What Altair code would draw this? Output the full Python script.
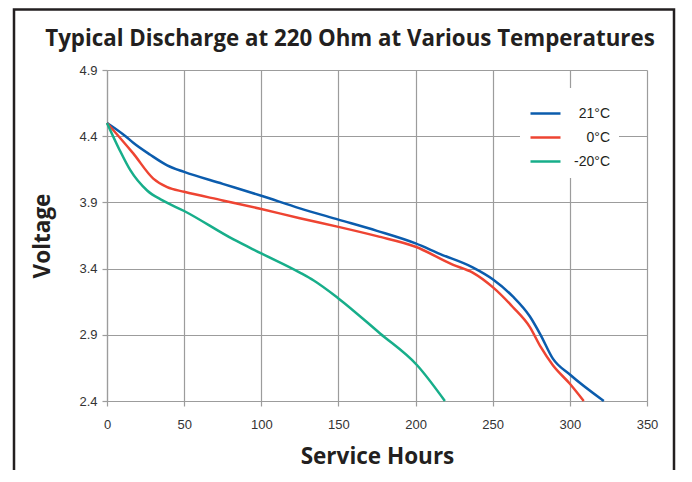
import altair as alt
import pandas as pd

# ---- data ----
hours_21 = [0, 12, 17, 28, 39, 50, 75, 100, 125, 150, 175, 200, 216, 237, 250, 263, 274, 281, 289, 300, 322]
volt_21 = [4.5, 4.4, 4.35, 4.26, 4.18, 4.13, 4.04, 3.95, 3.855, 3.77, 3.685, 3.59, 3.51, 3.41, 3.32, 3.19, 3.04, 2.90, 2.72, 2.60, 2.4]

hours_0 = [0, 17, 30, 39, 50, 75, 100, 125, 150, 175, 200, 224, 237, 250, 263, 274, 281, 289, 300, 309]
volt_0 = [4.5, 4.27, 4.08, 4.015, 3.98, 3.915, 3.85, 3.78, 3.715, 3.645, 3.565, 3.43, 3.37, 3.26, 3.11, 2.96, 2.81, 2.67, 2.53, 2.4]

hours_m20 = [0, 8, 15, 26, 36, 50, 82, 100, 125, 134, 150, 177, 201, 219]
volt_m20 = [4.5, 4.3, 4.145, 3.99, 3.915, 3.835, 3.62, 3.515, 3.37, 3.31, 3.175, 2.91, 2.67, 2.4]

series_labels = ["21°C", "0°C", "-20°C"]
series_colors = ["#0B5CAD", "#EE4432", "#17AE8A"]

x_ticks = [0, 50, 100, 150, 200, 250, 300, 350]
y_ticks = [2.4, 2.9, 3.4, 3.9, 4.4, 4.9]

rows = []
for lab, hs, vs in zip(series_labels, [hours_21, hours_0, hours_m20], [volt_21, volt_0, volt_m20]):
    for i, (h, v) in enumerate(zip(hs, vs)):
        rows.append({"series": lab, "hours": h, "volt": v, "order": i})
df = pd.DataFrame(rows)

label_font = "Liberation Sans"
title_font = "Open Sans"

lines = alt.Chart(df).mark_line(strokeWidth=2.5, interpolate="monotone").encode(
    x=alt.X("hours:Q",
            scale=alt.Scale(domain=[0, 350], nice=False),
            axis=alt.Axis(values=x_ticks, title="Service Hours", grid=True, labelFlush=False,
                          labelFontSize=13, labelFont=label_font, labelColor="#333333",
                          labelPadding=12, tickSize=5, titlePadding=14,
                          titleFontSize=22.5, titleFont=title_font, titleFontWeight=700,
                          titleColor="#231f20")),
    y=alt.Y("volt:Q",
            scale=alt.Scale(domain=[2.4, 4.9], nice=False, zero=False),
            axis=alt.Axis(values=y_ticks, format=".1f", title="Voltage", grid=True,
                          labelFontSize=13, labelFont=label_font, labelColor="#333333",
                          labelPadding=5, tickSize=5, titlePadding=24,
                          titleFontSize=22.5, titleFont=title_font, titleFontWeight=700,
                          titleColor="#231f20")),
    color=alt.Color("series:N",
                    scale=alt.Scale(domain=series_labels, range=series_colors),
                    sort=series_labels,
                    legend=alt.Legend(title=None, orient="none", legendX=413, legendY=18,
                                      fillColor="white", padding=9,
                                      symbolType="stroke", symbolSize=900, symbolStrokeWidth=2.5,
                                      labelFontSize=14, labelFont=label_font, labelColor="#231f20",
                                      labelAlign="right", labelOffset=48, rowPadding=-2)),
    order="order:Q",
)

frame_df = pd.DataFrame({"k": [0]})
frame = alt.Chart(frame_df).mark_rect(filled=False, stroke="#231f20", strokeWidth=2.5).encode(
    x=alt.value(-93), x2=alt.value(567), y=alt.value(-60.5), y2=alt.value(420)
)

chart = alt.layer(lines, frame).properties(
    width=540, height=331,
    autosize=alt.AutoSizeParams(type="none"),
    padding={"left": 99, "top": 62, "right": 37, "bottom": 69},
    title=alt.Title("Typical Discharge at 220 Ohm at Various Temperatures",
                    font=title_font, fontSize=22.3, fontWeight=700, color="#231f20",
                    anchor="middle", frame="group", dx=-27, offset=-42),
).configure_view(stroke=None).configure_axis(
    gridColor="#9c9c9c", gridWidth=1.2, domainColor="#9c9c9c", domainWidth=1.2,
    tickColor="#9c9c9c", tickWidth=1.2,
)

chart.save("out.html", embed_options={"renderer": "svg", "actions": False})
